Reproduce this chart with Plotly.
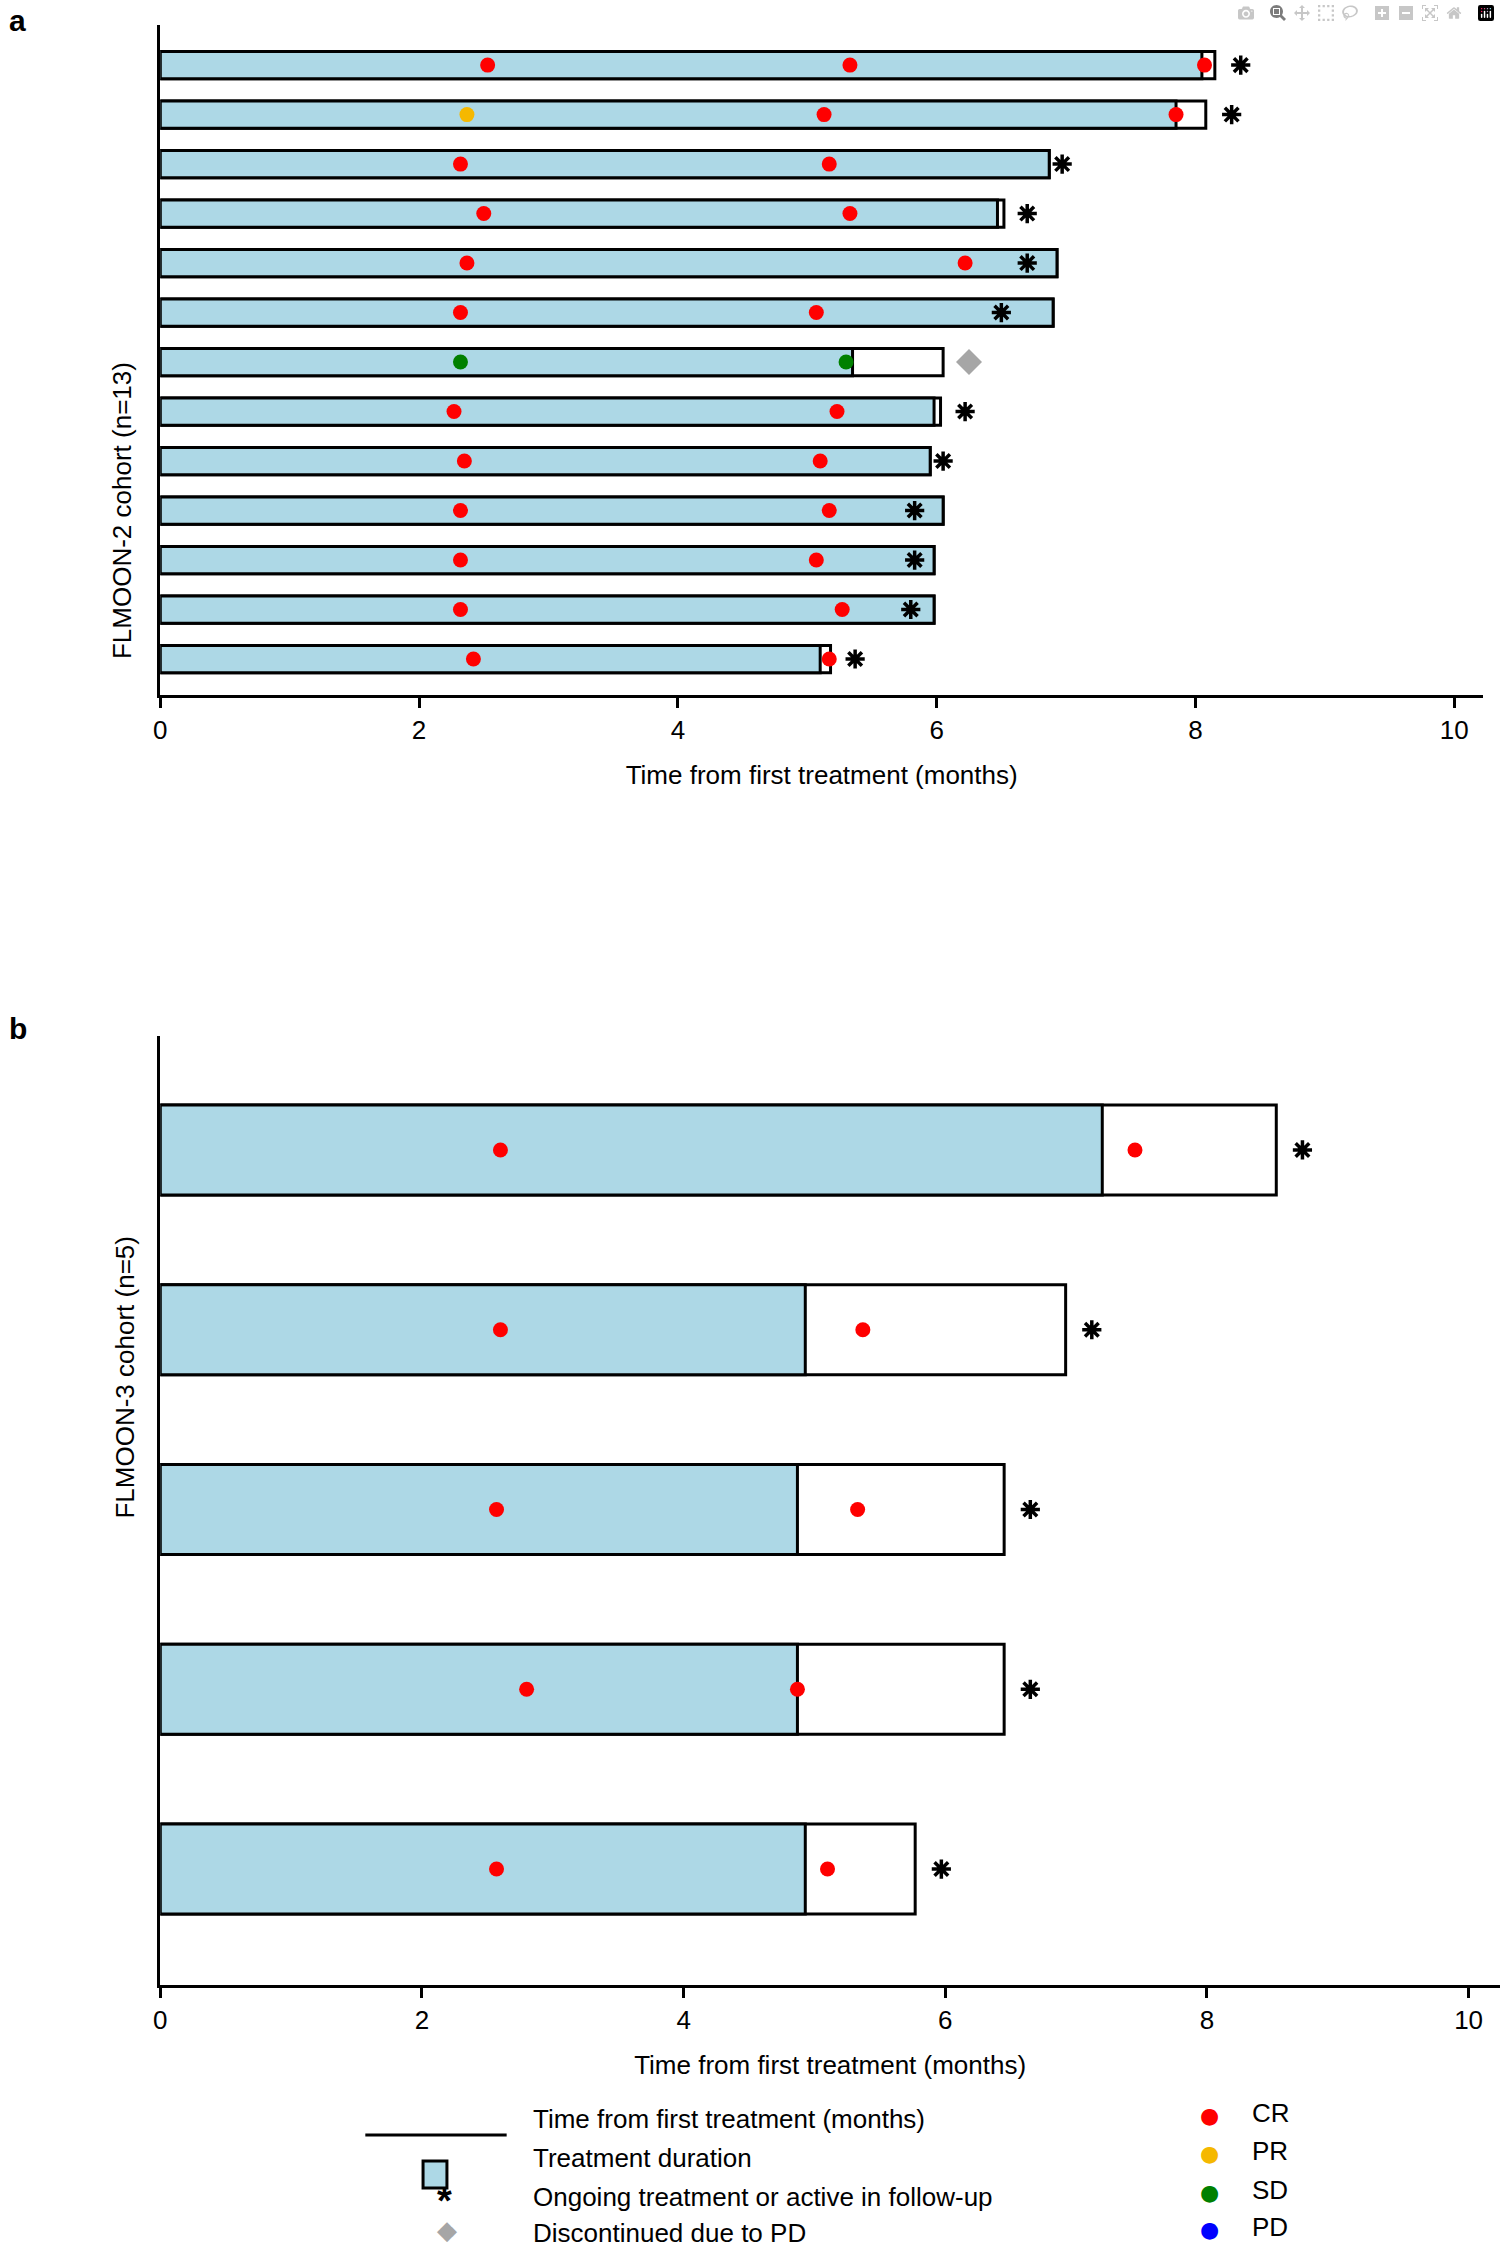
import plotly.graph_objects as go

# ---- FLMOON-2 cohort (listed top to bottom) ----
a_treat = [8.05, 7.85, 6.87, 6.47, 6.93, 6.90, 5.35, 5.98, 5.95, 6.05, 5.98, 5.98, 5.10]
a_total = [8.15, 8.08, 6.87, 6.52, 6.93, 6.90, 6.05, 6.03, 5.95, 6.05, 5.98, 5.98, 5.18]
a_resp1 = [2.53, 2.37, 2.32, 2.50, 2.37, 2.32, 2.32, 2.27, 2.35, 2.32, 2.32, 2.32, 2.42]
a_resp1_type = ['CR', 'PR', 'CR', 'CR', 'CR', 'CR', 'SD', 'CR', 'CR', 'CR', 'CR', 'CR', 'CR']
a_resp2 = [5.33, 5.13, 5.17, 5.33, 6.22, 5.07, 5.30, 5.23, 5.10, 5.17, 5.07, 5.27, 5.17]
a_resp2_type = ['CR', 'CR', 'CR', 'CR', 'CR', 'CR', 'SD', 'CR', 'CR', 'CR', 'CR', 'CR', 'CR']
a_resp3 = [8.07, 7.85, None, None, None, None, None, None, None, None, None, None, None]
a_ongoing = [8.35, 8.28, 6.97, 6.70, 6.70, 6.50, None, 6.22, 6.05, 5.83, 5.83, 5.80, 5.37]
a_discont = [None, None, None, None, None, None, 6.25, None, None, None, None, None, None]

# ---- FLMOON-3 cohort (listed top to bottom) ----
b_treat = [7.20, 4.93, 4.87, 4.87, 4.93]
b_total = [8.53, 6.92, 6.45, 6.45, 5.77]
b_resp1 = [2.60, 2.60, 2.57, 2.80, 2.57]
b_resp2 = [7.45, 5.37, 5.33, 4.87, 5.10]
b_ongoing = [8.73, 7.12, 6.65, 6.65, 5.97]

resp_colors = {'CR': '#ff0000', 'PR': '#f5b800', 'SD': '#008000', 'PD': '#0000ff'}
BLUE = '#add8e6'
FONT = 'Liberation Sans, Arial, sans-serif'

W, H = 1500, 2261
fig = go.Figure()


def add_panel(treat, total, points, ongoing, discont, xa, ya, bar_w):
    n = len(treat)
    ys = list(range(n - 1, -1, -1))  # first row at top
    fig.add_trace(go.Bar(x=total, y=ys, orientation='h', width=bar_w,
                         marker=dict(color='white', line=dict(color='black', width=3)),
                         xaxis=xa, yaxis=ya, showlegend=False, hoverinfo='x'))
    fig.add_trace(go.Bar(x=treat, y=ys, orientation='h', width=bar_w,
                         marker=dict(color=BLUE, line=dict(color='black', width=3)),
                         xaxis=xa, yaxis=ya, showlegend=False, hoverinfo='x'))
    for xs, types in points:
        px = [v for v in xs if v is not None]
        py = [y for v, y in zip(xs, ys) if v is not None]
        pc = [resp_colors[t] for v, t in zip(xs, types) if v is not None]
        fig.add_trace(go.Scatter(x=px, y=py, mode='markers', xaxis=xa, yaxis=ya,
                                 marker=dict(color=pc, size=15), showlegend=False))
    ox = [v for v in ongoing if v is not None]
    oy = [y for v, y in zip(ongoing, ys) if v is not None]
    fig.add_trace(go.Scatter(x=ox, y=oy, mode='markers', xaxis=xa, yaxis=ya,
                             marker=dict(symbol='asterisk-open', size=16, color='black',
                                         line=dict(color='black', width=3.5)),
                             showlegend=False))
    if discont:
        dx = [v for v in discont if v is not None]
        dy = [y for v, y in zip(discont, ys) if v is not None]
        fig.add_trace(go.Scatter(x=dx, y=dy, mode='markers', xaxis=xa, yaxis=ya,
                                 marker=dict(symbol='diamond', size=20, color='#a6a6a6'),
                                 showlegend=False))


add_panel(a_treat, a_total,
          [(a_resp1, a_resp1_type), (a_resp2, a_resp2_type), (a_resp3, ['CR'] * 13)],
          a_ongoing, a_discont, 'x', 'y', 0.55)
add_panel(b_treat, b_total,
          [(b_resp1, ['CR'] * 5), (b_resp2, ['CR'] * 5)],
          b_ongoing, None, 'x2', 'y2', 0.5)

axis_common = dict(showline=True, linecolor='black', linewidth=3, showgrid=False,
                   zeroline=False, ticks='outside', ticklen=10, tickwidth=3,
                   tickcolor='black', tickvals=[0, 2, 4, 6, 8, 10],
                   tickfont=dict(size=26, color='black', family=FONT),
                   title_font=dict(size=26, color='black', family=FONT))

fig.update_layout(
    width=W, height=H, margin=dict(l=0, r=0, t=0, b=0),
    paper_bgcolor='white', plot_bgcolor='white', barmode='overlay',
    font=dict(family=FONT, color='black'),
    xaxis=dict(axis_common, domain=[154 / W, 1483 / W], range=[0, 10.223],
               anchor='y', title=dict(text='Time from first treatment (months)', standoff=22)),
    yaxis=dict(domain=[1 - 695 / H, 1 - 25 / H], range=[-0.727, 12.81],
               showline=True, linecolor='black', linewidth=3, showticklabels=False,
               showgrid=False, zeroline=False, anchor='x'),
    xaxis2=dict(axis_common, domain=[154 / W, 1.0], range=[0, 10.24],
                anchor='y2', title=dict(text='Time from first treatment (months)', standoff=22)),
    yaxis2=dict(domain=[1 - 1985 / H, 1 - 1036 / H], range=[-0.645, 4.634],
                showline=True, linecolor='black', linewidth=3, showticklabels=False,
                showgrid=False, zeroline=False, anchor='x2'),
)

ann = [
    dict(text='<b>a</b>', x=0, y=1 - 2 / H, xanchor='left', yanchor='top'),
    dict(text='<b>b</b>', x=0, y=1 - 1010 / H, xanchor='left', yanchor='top'),
    dict(text='FLMOON-2 cohort (n=13)', x=98 / W, y=1 - 360 / H, textangle=-90),
    dict(text='FLMOON-3 cohort (n=5)', x=101 / W, y=1 - 1521 / H, textangle=-90),
]
for a in ann:
    fig.add_annotation(xref='paper', yref='paper', showarrow=False,
                       font=dict(size=30 if a['text'].startswith('<b>') else 26,
                                 family=FONT, color='black'),
                       **a)

# ---- legend ----
leg_rows = [2136, 2175, 2214, 2250]
leg_text = ['Time from first treatment (months)', 'Treatment duration',
            'Ongoing treatment or active in follow-up', 'Discontinued due to PD']
for t, yy in zip(leg_text, leg_rows):
    fig.add_annotation(text=t, x=526 / W, y=1 - yy / H, xref='paper', yref='paper',
                       xanchor='left', showarrow=False,
                       font=dict(size=26, family=FONT, color='black'))
fig.add_shape(type='line', xref='paper', yref='paper', x0=360 / W, x1=502 / W,
              y0=1 - 2135 / H, y1=1 - 2135 / H, line=dict(color='black', width=3))
fig.add_shape(type='rect', xref='paper', yref='paper', x0=418 / W, x1=442 / W,
              y0=1 - 2188 / H, y1=1 - 2161 / H, fillcolor=BLUE,
              line=dict(color='black', width=3))
fig.add_annotation(text='<b>*</b>', x=430 / W, y=1 - 2224 / H, xref='paper', yref='paper',
                   showarrow=False, font=dict(size=38, family=FONT, color='black'))
fig.add_annotation(text='◆', x=430 / W, y=1 - 2247 / H, xref='paper', yref='paper',
                   showarrow=False, font=dict(size=26, family='DejaVu Sans', color='#a6a6a6'))

resp_rows = [2130, 2168, 2207, 2244]
for (name, col), yy in zip(resp_colors.items(), resp_rows):
    fig.add_annotation(text='●', x=1220 / W, y=1 - yy / H, xref='paper', yref='paper',
                       showarrow=False, font=dict(size=22, family='DejaVu Sans', color=col))
    fig.add_annotation(text=name, x=1249 / W, y=1 - yy / H, xref='paper', yref='paper',
                       xanchor='left', showarrow=False,
                       font=dict(size=26, family=FONT, color='black'))

fig.write_html("out.html", post_script="document.body.style.margin='0';")
